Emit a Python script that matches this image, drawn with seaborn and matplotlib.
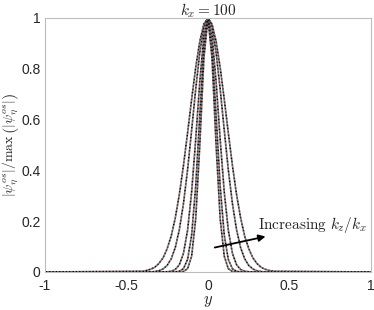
import numpy as np
import pandas as pd
import matplotlib
matplotlib.use("Agg")
import matplotlib.pyplot as plt
import seaborn as sns

# half profiles (y >= 0), curves are symmetric about y = 0
y_half = [0.0, 0.025, 0.05, 0.075, 0.1, 0.125, 0.15, 0.175, 0.2, 0.225,
          0.25, 0.275, 0.3, 0.325, 0.35, 0.375, 0.4, 1.0]

curve_1 = [1.0, 0.976, 0.908, 0.805, 0.680, 0.547, 0.420, 0.307, 0.214, 0.142,
           0.092, 0.056, 0.034, 0.019, 0.011, 0.006, 0.003, 0.0]
curve_2 = [1.0, 0.964, 0.864, 0.720, 0.558, 0.402, 0.270, 0.168, 0.097, 0.052,
           0.026, 0.012, 0.005, 0.002, 0.0, 0.0, 0.0, 0.0]
curve_3 = [1.0, 0.930, 0.749, 0.522, 0.315, 0.164, 0.074, 0.029, 0.010, 0.003,
           0.001, 0.0, 0.0, 0.0, 0.0, 0.0, 0.0, 0.0]
curve_4 = [1.0, 0.886, 0.617, 0.338, 0.145, 0.049, 0.013, 0.003, 0.0, 0.0,
           0.0, 0.0, 0.0, 0.0, 0.0, 0.0, 0.0, 0.0]
curve_5 = [1.0, 0.841, 0.499, 0.210, 0.062, 0.013, 0.002, 0.0, 0.0, 0.0,
           0.0, 0.0, 0.0, 0.0, 0.0, 0.0, 0.0, 0.0]
curves = [curve_1, curve_2, curve_3, curve_4, curve_5]

x_ticks = [-1, -0.5, 0, 0.5, 1]
x_tick_labels = ["-1", "-0.5", "0", "0.5", "1"]
y_ticks = [0, 0.2, 0.4, 0.6, 0.8, 1]
y_tick_labels = ["0", "0.2", "0.4", "0.6", "0.8", "1"]

sns.set_style("white")
plt.rcParams["mathtext.fontset"] = "cm"
plt.rcParams["axes.unicode_minus"] = False
plt.rcParams["lines.scale_dashes"] = False
plt.rcParams["font.family"] = ["Liberation Sans", "DejaVu Sans"]

fig = plt.figure(figsize=(3.74, 3.10), dpi=100)
ax = fig.add_axes([0.120, 0.1226, 0.872, 0.8194])

# each case drawn three times (blue, orange, black) on top of each other
d = 0.8
styles = [("#0072BD", (0, (d, 2 * d))),
          ("#D95319", (d, (d, 2 * d))),
          ("black", (2 * d, (d, 2 * d)))]

for c in curves:
    yy = np.array(y_half)
    vv = np.array(c)
    df = pd.DataFrame({"y": np.concatenate([-yy[::-1], yy[1:]]),
                       "v": np.concatenate([vv[::-1], vv[1:]])})
    for color, ls in styles:
        sns.lineplot(data=df, x="y", y="v", ax=ax, color=color,
                     linestyle=ls, linewidth=1.2, sort=True, estimator=None)

ax.set_xlim(-1, 1)
ax.set_ylim(0, 1)
ax.set_xticks(x_ticks)
ax.set_xticklabels(x_tick_labels)
ax.set_yticks(y_ticks)
ax.set_yticklabels(y_tick_labels)
ax.tick_params(direction="in", length=3, colors="#262626", labelsize=10,
               width=0.6, top=False, right=False)
ax.tick_params(axis="x", pad=5)
ax.tick_params(axis="y", pad=3)
for s in ax.spines.values():
    s.set_color("#bdbdbd")
    s.set_linewidth(0.8)

ax.set_xlabel("$y$", fontsize=12, labelpad=1)
ax.set_ylabel(r"$|\psi_\eta^{os}|/\max\,\left(|\psi_\eta^{os}|\right)$",
              fontsize=10)
ax.yaxis.set_label_coords(-0.07, 0.5)
ax.set_title("$k_x = 100$", fontsize=11, pad=2)

ax.annotate("", xy=(0.37, 0.142), xytext=(0.025, 0.094),
            arrowprops=dict(arrowstyle="-|>", color="black", lw=1.3,
                            mutation_scale=10))
ax.text(0.31, 0.185, r"$\mathrm{Increasing}\ k_z/k_x$", fontsize=11,
        ha="left", va="center")

fig.savefig("out.png", dpi=100)
